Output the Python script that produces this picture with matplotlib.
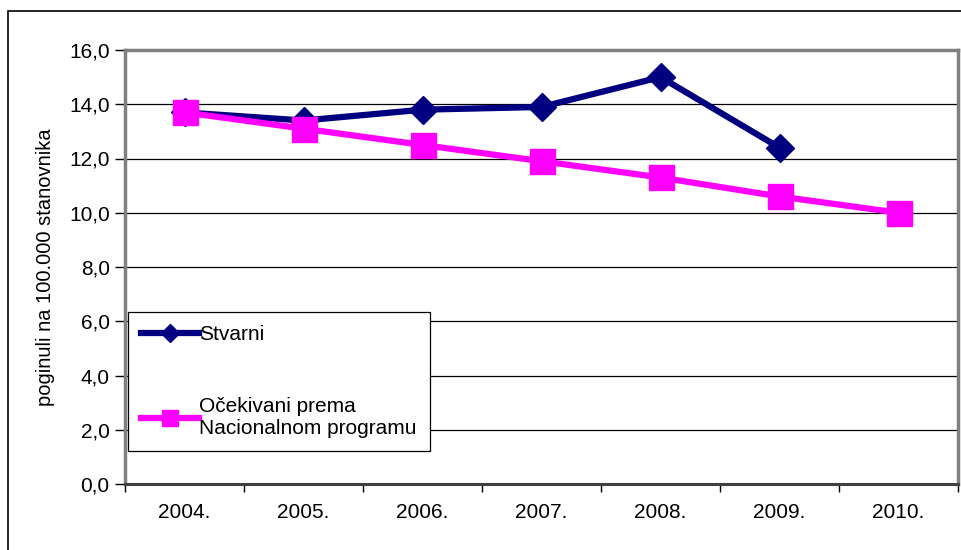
import matplotlib.pyplot as plt
import numpy as np
from matplotlib.patches import Rectangle
from matplotlib.ticker import FuncFormatter

plt.rcParams['font.family'] = ['Liberation Sans', 'DejaVu Sans']

godine = ["2004.", "2005.", "2006.", "2007.", "2008.", "2009.", "2010."]
stvarni = [13.7, 13.4, 13.8, 13.9, 15.0, 12.4]
ocekivani = [13.7, 13.1, 12.5, 11.9, 11.3, 10.6, 10.0]

fig = plt.figure(figsize=(9.61, 5.5), dpi=100)
ax = fig.add_axes([125 / 961, 1 - 484 / 550, 833 / 961, 434 / 550])

# outer frame of the chart
fig.patches.append(Rectangle((8 / 961, -0.1), 1.2, 1 - 11 / 550 + 0.1,
                             transform=fig.transFigure, fill=False,
                             edgecolor='black', linewidth=1.2))

x = np.arange(len(godine))
ax.plot(x[:len(stvarni)], stvarni, color='#000080', linewidth=4.5,
        marker='D', markersize=14, label='Stvarni', zorder=3)
ax.plot(x, ocekivani, color='#FF00FF', linewidth=4.5,
        marker='s', markersize=18, label='Očekivani prema\nNacionalnom programu', zorder=4)

ax.set_xlim(-0.5, 6.5)
ax.set_ylim(0, 16)
ax.set_yticks(np.arange(0, 17, 2))
ax.yaxis.set_major_formatter(FuncFormatter(lambda v, p: f"{v:.1f}".replace('.', ',')))
ax.yaxis.grid(True, color='black', linewidth=0.9)
ax.set_axisbelow(True)

ax.set_xticks(x)
ax.set_xticklabels(godine)
ax.set_xticks(np.arange(-0.5, 7, 1), minor=True)
ax.tick_params(axis='x', which='major', length=0, pad=14, labelsize=15)
ax.tick_params(axis='x', which='minor', length=6, width=1, direction='out')
ax.tick_params(axis='y', length=7, width=1, direction='out', labelsize=15, pad=4)

for s in ['left', 'top', 'right']:
    ax.spines[s].set_color('#808080')
    ax.spines[s].set_linewidth(2.5)
ax.spines['bottom'].set_color('#404040')
ax.spines['bottom'].set_linewidth(2.2)

ax.set_ylabel("poginuli na 100.000 stanovnika", fontsize=14.5, labelpad=10)

leg = ax.legend(loc='upper left', bbox_to_anchor=(0.0036, 0.396), fontsize=15,
                frameon=True, fancybox=False, edgecolor='black', framealpha=1,
                handlelength=2.8, handletextpad=0.0, labelspacing=2.55,
                borderpad=0.62, borderaxespad=0)
leg.get_frame().set_linewidth(0.9)
leg.legend_handles[0].set_markersize(9)
leg.legend_handles[1].set_markersize(11)

fig.savefig("out.png", dpi=100)
